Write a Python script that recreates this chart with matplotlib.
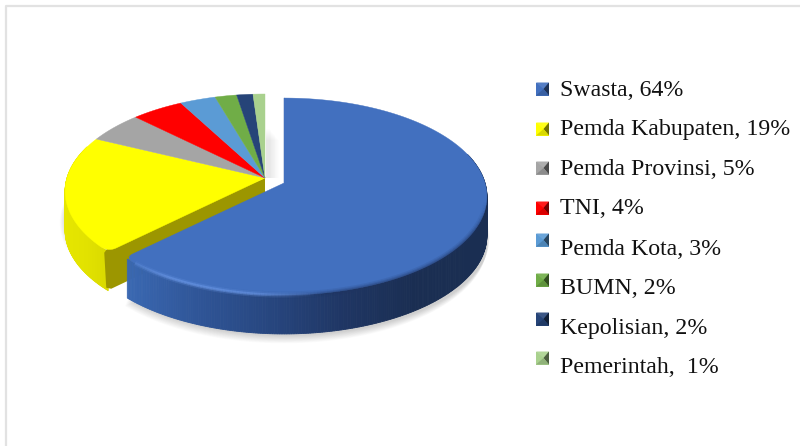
import numpy as np
import matplotlib
matplotlib.use('Agg')
import matplotlib.pyplot as plt
from matplotlib.patches import Polygon, Rectangle
from matplotlib.colors import LinearSegmentedColormap, to_rgb

labels = ['Swasta, 64%', 'Pemda Kabupaten, 19%', 'Pemda Provinsi, 5%', 'TNI, 4%',
          'Pemda Kota, 3%', 'BUMN, 2%', 'Kepolisian, 2%', 'Pemerintah,  1%']
# shares as they are drawn in the picture
shares = [62.7, 19.4, 5.2, 4.8, 3.3, 2.0, 1.5, 1.1]
colors = ['#4270BF', '#FFFF00', '#A5A5A5', '#FF0000', '#5B9BD5', '#70AD47', '#264478', '#A9D18E']
marker_y = [89, 129, 168, 208, 240, 280, 319, 358]
text_y = [96, 135, 175, 214, 255, 294, 334, 373]

k = 0.137
depth = 39


def rim(x0, y0, a1, a2, n=200, A=96.6, B=201):
    # angles in degrees, clockwise from the top, with a fake perspective
    t = np.radians(np.linspace(a1, a2, n))
    u = np.sin(t)
    v = np.cos(t)
    return x0 + B * u / (1 + k * v), y0 - A * v / (1 + k * v)


def mix(c1, c2, f):
    c1 = np.array(to_rgb(c1))
    c2 = np.array(to_rgb(c2))
    return tuple(c1 + (c2 - c1) * f)


def wall(ax, xs, ys, stops, z):
    # outer wall made of thin strips, colour goes with the x position
    cmap = LinearSegmentedColormap.from_list('w', stops)
    lo = xs.min()
    hi = xs.max()
    for i in range(len(xs) - 1):
        c = cmap((xs[i] - lo) / (hi - lo))
        pts = [(xs[i], ys[i]), (xs[i + 1], ys[i + 1]), (xs[i + 1], ys[i + 1] + depth), (xs[i], ys[i] + depth)]
        ax.add_patch(Polygon(pts, fc=c, ec=c, lw=0.6, zorder=z))


def round_corner(xs, ys, x0, y0, cut=9):
    # the last rim point is replaced by a small curve towards the apex
    px, py = xs[-1], ys[-1]
    d = np.hypot(x0 - px, y0 - py)
    qx, qy = px + (x0 - px) * cut / d, py + (y0 - py) * cut / d
    dr = np.hypot(xs - px, ys - py)
    keep = dr > cut
    sx, sy = xs[keep][-1], ys[keep][-1]
    t = np.linspace(0, 1, 12)
    bx_ = (1 - t) ** 2 * sx + 2 * t * (1 - t) * px + t ** 2 * qx
    by_ = (1 - t) ** 2 * sy + 2 * t * (1 - t) * py + t ** 2 * qy
    return np.r_[xs[keep], bx_], np.r_[ys[keep], by_]


def fade_line(ax, xs, ys, color, widths, alphas, z):
    # alphas has one value per point, so the line can fade out along the rim
    for lw, al in zip(widths, alphas):
        for i in range(len(xs) - 1):
            ax.plot(xs[i:i + 2], ys[i:i + 2], color=color, lw=lw, alpha=al[i], zorder=z, solid_capstyle='butt')


fig = plt.figure(figsize=(8, 4.46), dpi=100)
ax = fig.add_axes([0, 0, 1, 1])
ax.set_xlim(0, 800)
ax.set_ylim(446, 0)
ax.axis('off')

# frame of the picture
ax.plot([5.5, 5.5, 800], [446, 6, 6], color='#E2E2E2', lw=1.6, zorder=1)

angles = np.cumsum([0] + shares) * 3.6
cx, cy = 265, 178
bx, by = 284, 183
yA, yB = 95.5, 198

# soft shadow
for i in range(12):
    s = 12 - i
    xs, ys = rim(bx, by, 60, angles[1], 120)
    ax.add_patch(Polygon(np.r_[np.c_[xs + 3 - s * 0.25, ys + depth + 1 + s * 0.7], [[bx, by + 60]]],
                         fc='k', alpha=0.014, lw=0, zorder=2))
    xs, ys = rim(cx, cy, angles[1], 300, 100, yA, yB)
    ax.add_patch(Polygon(np.r_[np.c_[xs - s * 0.45, ys + depth * 0.7 + s * 0.35], [[cx, cy + 30]]],
                         fc='k', alpha=0.012, lw=0, zorder=2))
    ax.add_patch(Rectangle((266, 128 + s), 3 + s * 0.8, 50 - s, fc='k', alpha=0.006, lw=0, zorder=2))

# yellow slice, outer wall and cut face
xs, ys = rim(cx, cy, angles[1], 290, 200, yA, yB)
wall(ax, xs, ys, ['#E6E600', '#E2E200', '#D9D900'], 3)
px, py = rim(cx, cy, angles[1], angles[1], 1, yA, yB)
ax.add_patch(Polygon([(cx, cy), (px[0] + 2, py[0] - 7), (px[0] - 4, py[0] + 1), (px[0] - 2, py[0] + depth - 3),
                      (px[0] + 3, py[0] + depth - 2), (px[0] + 22, py[0] + 28), (cx, cy + 40)],
                     fc='#9C9600', lw=0, zorder=4))

# top faces of the left group
for i in range(1, len(shares)):
    xs, ys = rim(cx, cy, angles[i + 1], angles[i], 80, yA, yB)
    if i == 1:
        xs, ys = round_corner(xs, ys, cx, cy)
    ax.add_patch(Polygon(np.r_[[[cx, cy]], np.c_[xs, ys]], fc=colors[i], ec=colors[i], lw=0.3, zorder=5))

# blue slice
xs, ys = rim(bx, by, 72, angles[1] - 1, 260)
wall(ax, xs, ys, ['#3A68B2', '#2F5597', '#27467F', '#1F3664', '#1A2E52', '#1A2E52'], 6)
xs, ys = rim(bx, by, angles[0], angles[1], 400)
xs, ys = round_corner(xs, ys, bx, by)
ax.add_patch(Polygon(np.r_[[[bx, by]], np.c_[xs, ys]], fc=colors[0], ec=colors[0], lw=0.3, zorder=7))
ax.plot([bx - 0.5, bx - 0.5], [98, by], color='#1F3461', lw=0.8, zorder=6)

# soft edge of the bevel, dark on the right, highlight on the left
xs, ys = rim(bx, by, 100, 195, 60)
f = np.clip(np.r_[np.linspace(0, 1, 12), np.ones(28), np.linspace(1, 0, 20)], 0, 1)
fade_line(ax, xs, ys, '#1F3461', [5, 3, 1.5], [f * 0.12, f * 0.18, f * 0.25], 8)
xs, ys = rim(bx, by, 170, angles[1] - 4, 60)
f = np.r_[np.linspace(0, 1, 20), np.ones(25), np.linspace(1, 0.4, 15)]
fade_line(ax, xs, ys, '#6E9BEA', [4, 2], [f * 0.2, f * 0.5], 8)

# legend with small bevelled squares
for m_y, t_y, c, lab in zip(marker_y, text_y, colors, labels):
    x = 536
    s = 13
    top = m_y - s / 2
    ax.add_patch(Rectangle((x, top), s, s, fc=c, lw=0, zorder=9))
    m = (x + s / 2 + 1, m_y)
    ax.add_patch(Polygon([(x, top), (x + s, top), m], fc=mix(c, '#FFFFFF', 0.1), lw=0, zorder=10))
    ax.add_patch(Polygon([(x + s, top), (x + s, top + s), m], fc=mix(c, '#000000', 0.55), lw=0, zorder=10))
    ax.add_patch(Polygon([(x, top + s), (x + s, top + s), m], fc=mix(c, '#000000', 0.15), lw=0, zorder=10))
    ax.text(560, t_y, lab, family='Liberation Serif', fontsize=17.2, color='#111111', va='baseline', ha='left', zorder=11)

fig.savefig('out.png', dpi=100)
